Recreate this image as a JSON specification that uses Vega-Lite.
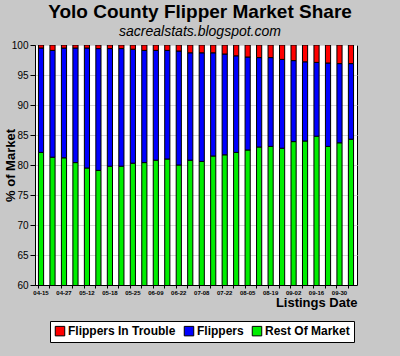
{
  "$schema": "https://vega.github.io/schema/vega-lite/v6.json",
  "width": 322,
  "height": 240,
  "autosize": "none",
  "padding": {"left": 35, "top": 45, "right": 43, "bottom": 71},
  "background": "#c8c8c8",
  "title": {
    "text": "Yolo County Flipper Market Share",
    "subtitle": "sacrealstats.blogspot.com",
    "anchor": "middle",
    "font": "Liberation Sans",
    "fontSize": 19,
    "fontWeight": "bold",
    "color": "#000000",
    "subtitleFont": "Liberation Sans",
    "subtitleFontSize": 14,
    "subtitleFontStyle": "italic",
    "subtitleColor": "#000000",
    "subtitlePadding": 3,
    "offset": 1,
    "dx": 4
  },
  "data": {
    "values": [
      {"date": "04-15", "rest": 82.1, "flippers": 17.4, "trouble": 0.5},
      {"date": "04-21", "rest": 81.3, "flippers": 17.8, "trouble": 0.9},
      {"date": "04-27", "rest": 81.2, "flippers": 18.3, "trouble": 0.5},
      {"date": "05-05", "rest": 80.4, "flippers": 19.1, "trouble": 0.5},
      {"date": "05-12", "rest": 79.5, "flippers": 20.0, "trouble": 0.5},
      {"date": "05-15", "rest": 79.1, "flippers": 20.3, "trouble": 0.6},
      {"date": "05-18", "rest": 79.8, "flippers": 19.6, "trouble": 0.6},
      {"date": "05-21", "rest": 79.8, "flippers": 19.6, "trouble": 0.6},
      {"date": "05-25", "rest": 80.3, "flippers": 19.0, "trouble": 0.7},
      {"date": "06-02", "rest": 80.4, "flippers": 18.7, "trouble": 0.9},
      {"date": "06-09", "rest": 80.8, "flippers": 18.3, "trouble": 0.9},
      {"date": "06-15", "rest": 81.0, "flippers": 18.1, "trouble": 0.9},
      {"date": "06-22", "rest": 80.0, "flippers": 19.0, "trouble": 1.0},
      {"date": "07-01", "rest": 80.8, "flippers": 17.9, "trouble": 1.3},
      {"date": "07-08", "rest": 80.6, "flippers": 18.1, "trouble": 1.3},
      {"date": "07-15", "rest": 81.5, "flippers": 17.2, "trouble": 1.3},
      {"date": "07-22", "rest": 81.7, "flippers": 16.8, "trouble": 1.5},
      {"date": "07-29", "rest": 82.1, "flippers": 16.1, "trouble": 1.8},
      {"date": "08-05", "rest": 82.5, "flippers": 15.5, "trouble": 2.0},
      {"date": "08-12", "rest": 83.0, "flippers": 14.9, "trouble": 2.1},
      {"date": "08-19", "rest": 83.1, "flippers": 14.8, "trouble": 2.1},
      {"date": "08-26", "rest": 82.8, "flippers": 14.8, "trouble": 2.4},
      {"date": "09-02", "rest": 83.9, "flippers": 13.5, "trouble": 2.6},
      {"date": "09-09", "rest": 84.0, "flippers": 13.2, "trouble": 2.8},
      {"date": "09-16", "rest": 84.8, "flippers": 12.3, "trouble": 2.9},
      {"date": "09-23", "rest": 83.1, "flippers": 13.9, "trouble": 3.0},
      {"date": "09-30", "rest": 83.7, "flippers": 13.2, "trouble": 3.1},
      {"date": "10-07", "rest": 84.3, "flippers": 12.6, "trouble": 3.1}
    ]
  },
  "transform": [
    {"fold": ["rest", "flippers", "trouble"], "as": ["key", "share"]},
    {"calculate": "datum.key === 'rest' ? 'Rest Of Market' : datum.key === 'flippers' ? 'Flippers' : 'Flippers In Trouble'", "as": "series"},
    {"calculate": "indexof(['rest','flippers','trouble'], datum.key)", "as": "stackOrder"}
  ],
  "mark": {"type": "bar", "clip": true, "stroke": "#000000", "strokeWidth": 1},
  "encoding": {
    "x": {
      "field": "date",
      "type": "nominal",
      "sort": null,
      "scale": {"paddingInner": 0.55, "paddingOuter": 0.3},
      "axis": {
        "title": "Listings Date",
        "titleFont": "Liberation Sans",
        "titleFontSize": 13,
        "titleFontWeight": "bold",
        "titleColor": "#000000",
        "titleAnchor": "end",
        "titleAlign": "right",
        "titleBaseline": "alphabetic",
        "titleX": 322,
        "titleY": 21,
        "labelAngle": 0,
        "labelFont": "Liberation Sans",
        "labelFontSize": 6,
        "labelFontWeight": "bold",
        "labelColor": "#000000",
        "labelPadding": 1,
        "labelOverlap": false,
        "labelExpr": "indexof(['04-15','04-27','05-12','05-18','05-25','06-09','06-22','07-08','07-22','08-05','08-19','09-02','09-16','09-30'], datum.value) >= 0 ? datum.value : ''",
        "bandPosition": 0,
        "tickSize": 3,
        "tickColor": "#000000",
        "domainColor": "#000000",
        "grid": false
      }
    },
    "y": {
      "field": "share",
      "type": "quantitative",
      "stack": "zero",
      "scale": {"domain": [60, 100], "nice": false},
      "axis": {
        "title": "% of Market",
        "titleFont": "Liberation Sans",
        "titleFontSize": 13,
        "titleFontWeight": "bold",
        "titleColor": "#000000",
        "titleX": -18,
        "titleY": 120,
        "titleAlign": "center",
        "titleBaseline": "bottom",
        "values": [60, 65, 70, 75, 80, 85, 90, 95, 100],
        "labelFont": "Liberation Sans",
        "labelFontSize": 10,
        "labelColor": "#000000",
        "labelPadding": 2,
        "tickSize": 5,
        "tickColor": "#000000",
        "domainColor": "#000000",
        "grid": true,
        "gridColor": "#d8d8d8"
      }
    },
    "color": {
      "field": "series",
      "type": "nominal",
      "scale": {
        "domain": ["Flippers In Trouble", "Flippers", "Rest Of Market"],
        "range": ["#ff0000", "#0000ff", "#00ee00"]
      },
      "legend": {
        "title": null,
        "orient": "none",
        "direction": "horizontal",
        "legendX": 15,
        "legendY": 276,
        "fillColor": "#ffffff",
        "strokeColor": "#000000",
        "padding": 4,
        "symbolType": "square",
        "symbolSize": 90,
        "symbolStrokeColor": "#000000",
        "symbolStrokeWidth": 1,
        "symbolOpacity": 1,
        "labelFont": "Liberation Sans",
        "labelFontSize": 12,
        "labelFontWeight": "bold",
        "labelColor": "#000000",
        "labelOffset": 2,
        "columnPadding": 6
      }
    },
    "order": {"field": "stackOrder", "type": "quantitative"}
  },
  "config": {
    "view": {"fill": "#ffffff", "stroke": "#000000"}
  }
}
